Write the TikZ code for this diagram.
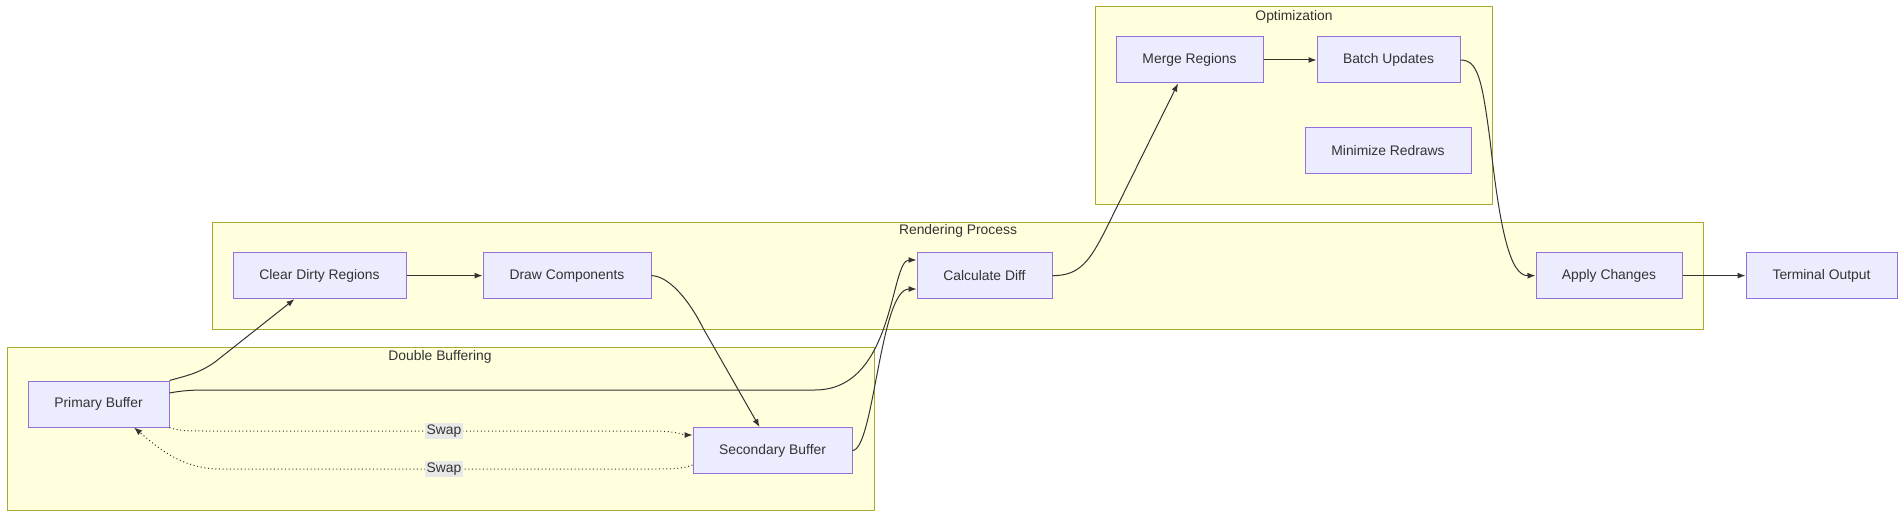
\documentclass[tikz,border=0pt]{standalone}
\usepackage{fontspec}
\setmainfont{Liberation Sans}
\usetikzlibrary{arrows.meta,calc}
\definecolor{nodefill}{HTML}{ECECFF}
\definecolor{nodeborder}{HTML}{9370DB}
\definecolor{clfill}{HTML}{FFFFDE}
\definecolor{clborder}{HTML}{AAAA33}
\definecolor{edgecol}{HTML}{333333}
\definecolor{lblfill}{HTML}{E8E8E8}
\tikzset{
  box/.style={draw=nodeborder, fill=nodefill, line width=0.75pt, minimum height=34.5pt, inner sep=0pt, text=edgecol, font=\fontsize{10.4pt}{12pt}\selectfont},
  cluster/.style={draw=clborder, fill=clfill, line width=0.75pt},
  cltitle/.style={text=edgecol, font=\fontsize{10.4pt}{12pt}\selectfont, inner sep=0pt},
  conn/.style={draw=edgecol, line width=0.75pt, -{Latex[length=6pt,width=4.5pt]}},
  dotconn/.style={conn, dotted},
  swaplbl/.style={fill=lblfill, text=edgecol, font=\fontsize{10.4pt}{12pt}\selectfont, inner sep=1.5pt}
}
\begin{document}
\begin{tikzpicture}[x=0.75pt,y=-0.75pt]
\useasboundingbox (0,0) rectangle (1904,517);
% clusters
\draw[cluster] (1095,7) rectangle (1492,204);
\node[cltitle] (tOpt) at (1294,17) {Optimization};
\draw[cluster] (212,222) rectangle (1703,329);
\node[cltitle] (tRen) at (958,231) {Rendering Process};
\draw[cluster] (7,347) rectangle (874,510);
\node[cltitle] (tDbl) at (440,357) {Double Buffering};
% nodes
\node[box, minimum width=110.25pt] (MR) at (1189.5,60) {Merge Regions};
\node[box, minimum width=107.25pt] (BU) at (1388.5,60) {Batch Updates};
\node[box, minimum width=124.5pt] (MZ) at (1388,150.5) {Minimize Redraws};
\node[box, minimum width=129.75pt] (CR) at (319.5,275.6) {Clear Dirty Regions};
\node[box, minimum width=126pt] (DC) at (567,275.6) {Draw Components};
\node[box, minimum width=101.25pt] (CD) at (984.5,275.6) {Calculate Diff};
\node[box, minimum width=109.5pt] (AC) at (1609,275.6) {Apply Changes};
\node[box, minimum width=113.25pt] (TO) at (1821.5,275.6) {Terminal Output};
\node[box, minimum width=105.75pt] (PB) at (98.5,404) {Primary Buffer};
\node[box, minimum width=119.25pt] (SB) at (772.5,450.5) {Secondary Buffer};
% connectors
\draw[conn] (PB.north east) .. controls (185,376) and (198,374) .. (215,362) -- ($(CR.south)+(-25,0)$);
\draw[conn] (CR.east) -- (DC.west);
\draw[conn] ($(PB.east)+(0,-11)$) .. controls (180,391) and (190,390) .. (205,390) -- (815,390) .. controls (895,390) and (890,260) .. ($(CD.west)+(0,-15.6)$);
\draw[conn] (SB.east) .. controls (874,450) and (880,289) .. ($(CD.west)+(0,13.4)$);
\draw[conn] (DC.east) .. controls (668,276) and (688,298) .. (703,328) -- ($(SB.north)+(-13,0)$);
\draw[conn] (CD.east) .. controls (1080,276) and (1090,260) .. (1105,231) -- ($(MR.south)+(-11.5,0)$);
\draw[conn] (MR.east) -- (BU.west);
\draw[conn] (BU.east) .. controls (1478,60) and (1482,80) .. (1490,140) .. controls (1500,230) and (1510,276) .. (AC.west);
\draw[conn] (AC.east) -- (TO.west);
\draw[dotconn] (PB.south east) .. controls (178,431) and (190,431) .. (205,431) -- (655,431) .. controls (675,431) and (685,435) .. ($(SB.west)+(0,-15.5)$);
\node[swaplbl] (sw1) at (444,431) {Swap};
\draw[dotconn] ($(SB.west)+(0,14.5)$) .. controls (682,469) and (670,469) .. (655,469) -- (220,469) .. controls (180,469) and (155,445) .. ($(PB.south)+(35.5,0)$);
\node[swaplbl] (sw2) at (444,469) {Swap};
\end{tikzpicture}
\end{document}
